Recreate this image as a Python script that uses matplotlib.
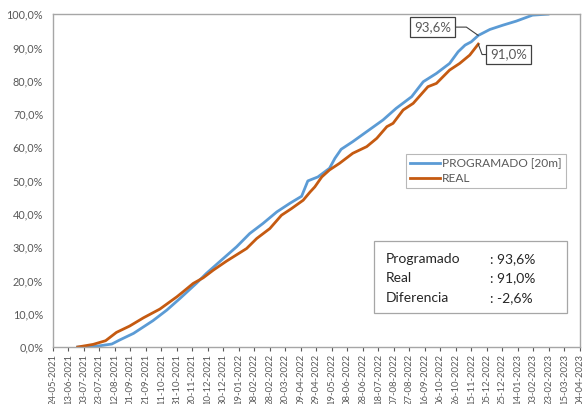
import matplotlib
matplotlib.use("Agg")
import matplotlib.pyplot as plt
import matplotlib.dates as mdates
from matplotlib.ticker import FuncFormatter
import numpy as np
from datetime import datetime, timedelta

plt.rcParams['font.family'] = ['Lato', 'DejaVu Sans']

# programado (curva S)
prog_dates = ["2021-06-25", "2021-07-21", "2021-08-08", "2021-08-18", "2021-09-05",
              "2021-09-30", "2021-10-18", "2021-11-04", "2021-11-25", "2021-12-08",
              "2021-12-25", "2022-01-16", "2022-02-02", "2022-02-19", "2022-03-09",
              "2022-03-26", "2022-04-10", "2022-04-18", "2022-05-01", "2022-05-16",
              "2022-05-23", "2022-05-31", "2022-06-15", "2022-07-03", "2022-07-24",
              "2022-08-10", "2022-08-30", "2022-09-14", "2022-10-01", "2022-10-18",
              "2022-10-29", "2022-11-07", "2022-11-15", "2022-11-24", "2022-12-09",
              "2022-12-26", "2023-01-12", "2023-02-02", "2023-02-22"]
prog_vals = [0.0, 0.3, 0.9, 2.1, 4.1,
             7.9, 11.1, 14.6, 19.1, 22.1,
             25.6, 30.1, 34.1, 37.1, 40.6,
             43.2, 45.3, 49.9, 51.1, 53.7,
             56.7, 59.4, 61.7, 64.7, 68.2,
             71.7, 75.2, 79.7, 82.2, 85.2,
             88.7, 90.7, 91.7, 93.6, 95.4,
             96.7, 97.9, 99.7, 100.0]

# avance real
real_dates = ["2021-06-25", "2021-07-15", "2021-07-31", "2021-08-14", "2021-08-31",
              "2021-09-18", "2021-10-09", "2021-10-31", "2021-11-08", "2021-11-21",
              "2021-12-04", "2021-12-17", "2022-01-03", "2022-01-29", "2022-02-11",
              "2022-02-28", "2022-03-15", "2022-03-28", "2022-04-12", "2022-04-21",
              "2022-04-27", "2022-05-06", "2022-05-16", "2022-05-29", "2022-06-15",
              "2022-07-03", "2022-07-16", "2022-07-29", "2022-08-06", "2022-08-19",
              "2022-09-01", "2022-09-20", "2022-10-01", "2022-10-18", "2022-10-31",
              "2022-11-13", "2022-11-24"]
real_vals = [0.0, 0.8, 1.9, 4.4, 6.3,
             8.8, 11.4, 15.1, 16.6, 19.1,
             20.8, 23.1, 25.8, 29.6, 32.6,
             35.6, 39.6, 41.6, 44.1, 46.6,
             48.1, 51.1, 53.2, 55.2, 58.2,
             60.2, 62.7, 66.2, 67.2, 71.2,
             73.2, 78.2, 79.2, 83.2, 85.2,
             87.7, 91.0]

prog_label = "PROGRAMADO [20m]"
real_label = "REAL"
resumen_labels = ["Programado", "Real", "Diferencia"]
resumen_vals = [": 93,6%", ": 91,0%", ": -2,6%"]

axis_start = datetime(2021, 5, 24)
axis_end = datetime(2023, 4, 4)

blue = "#5B9BD5"
orange = "#C55A11"
grey = "#595959"

def to_dt(lst):
    return [datetime.strptime(s, "%Y-%m-%d") for s in lst]

fig = plt.figure(figsize=(5.88, 4.04), dpi=100)
ax = fig.add_axes([0.090, 0.141, 0.896, 0.824])

ax.plot(to_dt(prog_dates), prog_vals, color=blue, lw=2.0, label=prog_label)
ax.plot(to_dt(real_dates), real_vals, color=orange, lw=2.0, label=real_label)

ax.set_xlim(axis_start, axis_end)
ax.set_ylim(0, 100)

# ticks every 20 days like the excel axis
ticks = []
d = axis_start
while d <= axis_end:
    ticks.append(d)
    d += timedelta(days=20)
ax.set_xticks(ticks)
ax.xaxis.set_major_formatter(mdates.DateFormatter("%d-%m-%Y"))
ax.set_yticks(np.arange(0, 101, 10))
ax.yaxis.set_major_formatter(FuncFormatter(lambda v, p: ("%.1f%%" % v).replace(".", ",")))

ax.tick_params(axis='x', labelrotation=90, labelsize=6.8, colors=grey, length=3, pad=2)
ax.tick_params(axis='y', labelsize=7.8, colors=grey, length=0, pad=7)
for s in ax.spines.values():
    s.set_color("#A6A6A6")
    s.set_linewidth(1.0)

leg = ax.legend(loc="upper left", bbox_to_anchor=(0.670, 0.581), frameon=True,
                fancybox=False, fontsize=8.6, handlelength=2.5, handletextpad=0.2,
                borderpad=0.35, labelspacing=0.35, borderaxespad=0)
leg.get_frame().set_edgecolor("#A6A6A6")
leg.get_frame().set_linewidth(0.8)
for t in leg.get_texts():
    t.set_color(grey)

# data labels at the last real point
last = to_dt(real_dates)[-1]
ax.annotate("93,6%", xy=(last, prog_vals[prog_dates.index(real_dates[-1])]),
            xytext=(-33, 6), textcoords="offset points", fontsize=9.5, color=grey,
            ha="center", va="center",
            bbox=dict(boxstyle="square,pad=0.3", fc="white", ec="#404040", lw=0.9),
            arrowprops=dict(arrowstyle="-", color="#404040", lw=0.8,
                            connectionstyle="angle,angleA=0,angleB=145,rad=0",
                            shrinkA=0, shrinkB=0))
ax.annotate("91,0%", xy=(last, real_vals[-1]),
            xytext=(22, -7.5), textcoords="offset points", fontsize=9.5, color=grey,
            ha="center", va="center",
            bbox=dict(boxstyle="square,pad=0.3", fc="white", ec="#404040", lw=0.9),
            arrowprops=dict(arrowstyle="-", color="#404040", lw=0.8,
                            connectionstyle="angle,angleA=0,angleB=-70,rad=0",
                            shrinkA=0, shrinkB=0))

# summary box
box = plt.Rectangle((0.609, 0.103), 0.367, 0.216, transform=ax.transAxes,
                    fill=True, fc="white", ec="#A6A6A6", lw=0.9, zorder=3)
ax.add_patch(box)
for i, (lab, val) in enumerate(zip(resumen_labels, resumen_vals)):
    yy = 0.265 - i * 0.059
    ax.text(0.632, yy, lab, transform=ax.transAxes, fontsize=10, color="#262626",
            va="center", zorder=4)
    ax.text(0.830, yy, val, transform=ax.transAxes, fontsize=10, color="#262626",
            va="center", zorder=4)

fig.savefig("out.png", dpi=100)
